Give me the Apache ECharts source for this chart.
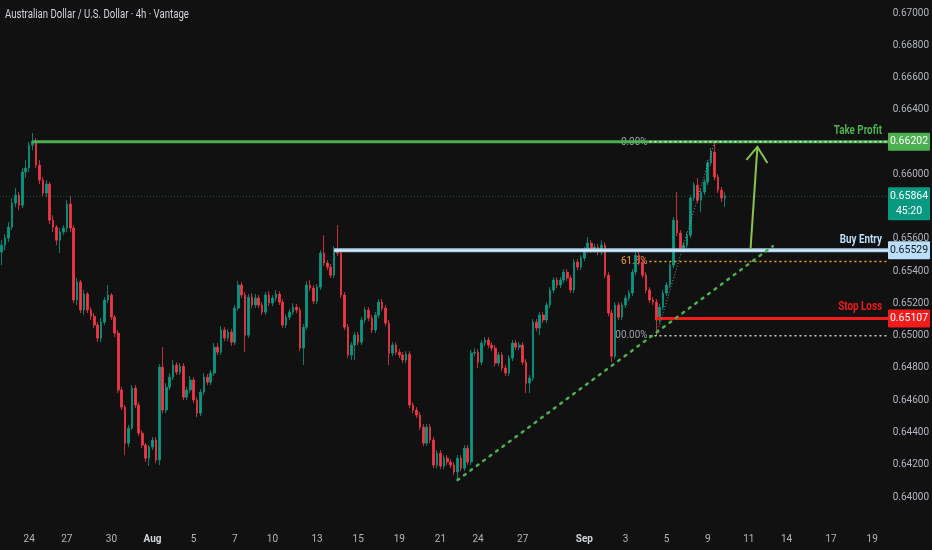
<!DOCTYPE html>
<html><head><meta charset="utf-8">
<script src="https://cdn.jsdelivr.net/npm/echarts@6/dist/echarts.min.js"></script>
<style>html,body{margin:0;padding:0;background:#111111;}#chart{width:932px;height:550px;}</style>
</head><body><div id="chart"></div>
<script>
// ---------- data ----------
const chartTitle = 'Australian Dollar / U.S. Dollar · 4h · Vantage';
const firstBarUTC = Date.UTC(2025, 6, 22, 17, 0);   // first 4h candle shown
const barHours = 4;
const totalBars = 259;                                // candles + empty space to the right

const opens = [0.65518,0.65561,0.65605,0.65673,0.65822,0.65871,0.65809,0.66014,0.66039,0.66181,
0.66206,0.66057,0.65964,0.65884,0.65940,0.65716,0.65673,0.65592,0.65642,0.65667,
0.65816,0.65667,0.65221,0.65332,0.65159,0.65258,0.65159,0.65121,0.65066,0.64985,
0.65084,0.65221,0.65252,0.65115,0.65016,0.64663,0.64557,0.64334,0.64427,0.64675,
0.64570,0.64396,0.64322,0.64241,0.64310,0.64353,0.64229,0.64805,0.64539,0.64681,
0.64743,0.64818,0.64774,0.64811,0.64619,0.64663,0.64725,0.64601,0.64520,0.64650,
0.64743,0.64712,0.64768,0.64929,0.64898,0.65035,0.64985,0.65022,0.64960,0.65171,
0.65314,0.65252,0.65004,0.65239,0.65190,0.65233,0.65190,0.65146,0.65252,0.65202,
0.65233,0.65258,0.65208,0.65066,0.65115,0.65146,0.65177,0.65159,0.64923,0.65053,
0.65314,0.65295,0.65214,0.65301,0.65512,0.65450,0.65425,0.65375,0.65530,0.65512,
0.65252,0.65053,0.64880,0.64942,0.65004,0.64960,0.65097,0.65159,0.65109,0.65035,
0.65128,0.65208,0.65171,0.65078,0.64892,0.64942,0.64898,0.64880,0.64849,0.64886,
0.64570,0.64539,0.64508,0.64433,0.64334,0.64433,0.64353,0.64198,0.64272,0.64192,
0.64241,0.64217,0.64198,0.64155,0.64241,0.64179,0.64303,0.64217,0.64892,0.64898,
0.64836,0.64954,0.64973,0.64942,0.64923,0.64830,0.64880,0.64799,0.64768,0.64861,
0.64954,0.64929,0.64942,0.64836,0.64706,0.64737,0.65084,0.65047,0.65128,0.65097,
0.65190,0.65283,0.65345,0.65314,0.65345,0.65394,0.65357,0.65283,0.65456,0.65425,
0.65481,0.65530,0.65574,0.65530,0.65549,0.65518,0.65561,0.65375,0.65140,0.64873,
0.65190,0.65115,0.65190,0.65233,0.65264,0.65394,0.65499,0.65456,0.65375,0.65283,
0.65221,0.65208,0.65097,0.65177,0.65264,0.65314,0.65437,0.65716,0.65636,0.65543,
0.65561,0.65623,0.65853,0.65933,0.65840,0.65890,0.65952,0.66070,0.66138,0.65983,
0.65902,0.65853];

const closes = [0.65561,0.65605,0.65673,0.65822,0.65871,0.65809,0.66014,0.66039,0.66181,0.66206,
0.66057,0.65964,0.65884,0.65940,0.65716,0.65673,0.65592,0.65642,0.65667,0.65816,
0.65667,0.65221,0.65332,0.65159,0.65258,0.65159,0.65121,0.65066,0.64985,0.65084,
0.65221,0.65252,0.65115,0.65016,0.64663,0.64557,0.64334,0.64427,0.64675,0.64570,
0.64396,0.64322,0.64241,0.64310,0.64353,0.64229,0.64805,0.64539,0.64681,0.64743,
0.64818,0.64774,0.64811,0.64619,0.64663,0.64725,0.64601,0.64520,0.64650,0.64743,
0.64712,0.64768,0.64929,0.64898,0.65035,0.64985,0.65022,0.64960,0.65171,0.65314,
0.65252,0.65004,0.65239,0.65190,0.65233,0.65190,0.65146,0.65252,0.65202,0.65233,
0.65258,0.65208,0.65066,0.65115,0.65146,0.65177,0.65159,0.64923,0.65053,0.65314,
0.65295,0.65214,0.65301,0.65512,0.65450,0.65425,0.65375,0.65530,0.65512,0.65252,
0.65053,0.64880,0.64942,0.65004,0.64960,0.65097,0.65159,0.65109,0.65035,0.65128,
0.65208,0.65171,0.65078,0.64892,0.64942,0.64898,0.64880,0.64849,0.64886,0.64570,
0.64539,0.64508,0.64433,0.64334,0.64433,0.64353,0.64198,0.64272,0.64192,0.64241,
0.64217,0.64198,0.64155,0.64241,0.64179,0.64303,0.64217,0.64892,0.64898,0.64836,
0.64954,0.64973,0.64942,0.64923,0.64830,0.64880,0.64799,0.64768,0.64861,0.64954,
0.64929,0.64942,0.64836,0.64706,0.64737,0.65084,0.65047,0.65128,0.65097,0.65190,
0.65283,0.65345,0.65314,0.65345,0.65394,0.65357,0.65283,0.65456,0.65425,0.65481,
0.65530,0.65574,0.65530,0.65549,0.65518,0.65561,0.65375,0.65140,0.64873,0.65190,
0.65115,0.65190,0.65233,0.65264,0.65394,0.65499,0.65456,0.65375,0.65283,0.65221,
0.65208,0.65097,0.65177,0.65264,0.65314,0.65437,0.65716,0.65636,0.65543,0.65561,
0.65623,0.65853,0.65933,0.65840,0.65890,0.65952,0.66070,0.66138,0.65983,0.65902,
0.65853,0.65864];

const lows = [0.65437,0.65530,0.65580,0.65654,0.65797,0.65778,0.65791,0.65977,0.66014,0.66150,
0.66039,0.65940,0.65865,0.65859,0.65692,0.65642,0.65561,0.65512,0.65623,0.65642,
0.65642,0.65202,0.65190,0.65140,0.65128,0.65140,0.65097,0.65047,0.64960,0.64960,
0.65066,0.65202,0.65097,0.64991,0.64644,0.64539,0.64260,0.64310,0.64415,0.64551,
0.64378,0.64303,0.64217,0.64192,0.64291,0.64210,0.64198,0.64520,0.64520,0.64663,
0.64725,0.64756,0.64756,0.64601,0.64601,0.64644,0.64582,0.64495,0.64502,0.64632,
0.64694,0.64694,0.64750,0.64880,0.64880,0.64966,0.64966,0.64935,0.64942,0.65152,
0.65233,0.64898,0.64985,0.65171,0.65171,0.65171,0.65128,0.65128,0.65183,0.65183,
0.65214,0.65190,0.65047,0.65047,0.65097,0.65128,0.65140,0.64904,0.64818,0.65035,
0.65276,0.65196,0.65196,0.65283,0.65431,0.65406,0.65357,0.65357,0.65493,0.65233,
0.65035,0.64861,0.64849,0.64849,0.64942,0.64942,0.65078,0.65090,0.65016,0.65016,
0.65109,0.65152,0.65059,0.64818,0.64873,0.64880,0.64861,0.64830,0.64830,0.64551,
0.64520,0.64489,0.64415,0.64316,0.64316,0.64334,0.64179,0.64179,0.64173,0.64173,
0.64198,0.64179,0.64136,0.64105,0.64161,0.64161,0.64198,0.64198,0.64873,0.64799,
0.64818,0.64935,0.64923,0.64904,0.64811,0.64811,0.64780,0.64750,0.64750,0.64842,
0.64911,0.64911,0.64818,0.64644,0.64644,0.64719,0.65028,0.65004,0.65078,0.65078,
0.65171,0.65264,0.65295,0.65295,0.65326,0.65338,0.65264,0.65264,0.65406,0.65406,
0.65462,0.65512,0.65512,0.65512,0.65499,0.65499,0.65357,0.65121,0.64836,0.64855,
0.65097,0.65097,0.65171,0.65214,0.65245,0.65375,0.65437,0.65357,0.65264,0.65202,
0.65190,0.65000,0.65078,0.65159,0.65245,0.65295,0.65419,0.65617,0.65524,0.65518,
0.65543,0.65605,0.65834,0.65822,0.65766,0.65871,0.65933,0.66051,0.65964,0.65884,
0.65828,0.65797];

const highs = [0.65592,0.65630,0.65704,0.65853,0.65915,0.65890,0.66039,0.66088,0.66200,0.66256,
0.66225,0.66088,0.65983,0.65964,0.65952,0.65747,0.65685,0.65667,0.65685,0.65840,
0.65865,0.65685,0.65357,0.65345,0.65283,0.65270,0.65177,0.65140,0.65084,0.65109,
0.65239,0.65314,0.65264,0.65128,0.65035,0.64681,0.64570,0.64446,0.64694,0.64694,
0.64588,0.64415,0.64334,0.64322,0.64372,0.64372,0.64824,0.64929,0.64706,0.64768,
0.64849,0.64836,0.64830,0.64830,0.64681,0.64750,0.64743,0.64619,0.64669,0.64768,
0.64762,0.64787,0.64954,0.64954,0.65059,0.65053,0.65041,0.65041,0.65190,0.65338,
0.65332,0.65270,0.65258,0.65264,0.65258,0.65252,0.65208,0.65270,0.65276,0.65252,
0.65283,0.65276,0.65227,0.65134,0.65165,0.65202,0.65196,0.65177,0.65072,0.65338,
0.65345,0.65314,0.65320,0.65530,0.65623,0.65468,0.65444,0.65555,0.65685,0.65530,
0.65270,0.65072,0.64960,0.65022,0.65022,0.65115,0.65177,0.65177,0.65128,0.65146,
0.65227,0.65227,0.65190,0.65097,0.64960,0.64960,0.64917,0.64898,0.64904,0.64904,
0.64588,0.64557,0.64526,0.64452,0.64452,0.64452,0.64372,0.64291,0.64291,0.64260,
0.64260,0.64235,0.64217,0.64260,0.64260,0.64322,0.64322,0.64911,0.64923,0.64917,
0.64973,0.64991,0.64991,0.64960,0.64942,0.64898,0.64898,0.64818,0.64880,0.64973,
0.64973,0.64960,0.64960,0.64855,0.64756,0.65103,0.65103,0.65146,0.65146,0.65208,
0.65301,0.65363,0.65363,0.65363,0.65413,0.65413,0.65375,0.65475,0.65475,0.65499,
0.65549,0.65611,0.65592,0.65568,0.65568,0.65592,0.65580,0.65394,0.65159,0.65208,
0.65208,0.65208,0.65252,0.65283,0.65413,0.65518,0.65518,0.65475,0.65394,0.65301,
0.65239,0.65227,0.65196,0.65283,0.65332,0.65456,0.65735,0.65890,0.65654,0.65580,
0.65642,0.65871,0.65952,0.65977,0.65909,0.65971,0.66088,0.66163,0.66202,0.66002,
0.65921,0.65890];

const tickDates  = ['2025-07-24','2025-07-27','2025-07-30','2025-08-01','2025-08-05','2025-08-07','2025-08-10',
                    '2025-08-13','2025-08-15','2025-08-19','2025-08-21','2025-08-24','2025-08-27','2025-09-01',
                    '2025-09-03','2025-09-05','2025-09-09','2025-09-11','2025-09-14','2025-09-17','2025-09-19'];
const tickLabels = ['24','27','30','Aug','5','7','10','13','15','19','21','24','27','Sep','3','5','9','11','14','17','19'];
const monthLabels = ['Aug','Sep'];

const priceMin = 0.638, priceMax = 0.670, priceStep = 0.002;

// trade levels
const takeProfit = 0.66202, buyEntry = 0.65529, stopLoss = 0.65107;
const lastPrice = 0.65864, countdown = '45:20';
const takeProfitFromBar = 9, buyEntryFromBar = 97, stopLossFromBar = 191;
// fibonacci retracement
const fibHigh = 0.66202, fibLow = 0.65000, fibHighBar = 208, fibLowBar = 191, fibLeftBar = 189;
const fibRatios = [0, 0.618, 1];
const fibTexts  = ['0.00%', '61.8%', '00.00%'];
// rising support (bar, price) and projection arrow
const supportStart = [133, 0.64105], supportEnd = [225, 0.65555];
const arrowStart = [218.5, 0.65540], arrowEnd = [220.5, 0.66170];

// ---------- build ----------
const categories = [];
for (let t = firstBarUTC; categories.length < totalBars; t += barHours * 3600e3) {
  const d = new Date(t), wd = d.getUTCDay(), h = d.getUTCHours();
  if (wd === 6) continue;
  if (wd === 0 && h < 21) continue;
  if (wd === 5 && h >= 21) continue;
  categories.push(d.toISOString().slice(0, 16).replace('T', ' '));
}
const labelAt = new Map();
tickDates.forEach((day, k) => {
  const idx = categories.findIndex(c => c.startsWith(day));
  if (idx >= 0) labelAt.set(idx, tickLabels[k]);
});
const candles = opens.map((o, i) => [o, closes[i], lows[i], highs[i]]);

const FONT = "Roboto, 'Noto Sans', sans-serif";
const BG = '#111111';
const UP = '#089981', DOWN = '#f23645';
const GRID = { left: 0, right: 44, top: 13, bottom: 20.7 };

const chart = echarts.init(document.getElementById('chart'), null, { renderer: 'canvas' });
chart.setOption({
  backgroundColor: BG,
  animation: false,
  grid: GRID,
  xAxis: {
    type: 'category', data: categories, boundaryGap: true,
    axisLine: { show: false }, axisTick: { show: false }, splitLine: { show: false },
    axisLabel: {
      interval: (idx) => labelAt.has(idx),
      formatter: (val, idx) => {
        const s = labelAt.get(idx) || '';
        return monthLabels.includes(s) ? '{m|' + s + '}' : s;
      },
      color: '#b2b5be', fontSize: 10, fontFamily: FONT, margin: 5,
      rich: { m: { color: '#d1d4dc', fontWeight: 'bold', fontSize: 10, fontFamily: FONT } }
    }
  },
  yAxis: {
    type: 'value', position: 'right', min: priceMin, max: priceMax, interval: priceStep, scale: true,
    axisLine: { show: false }, axisTick: { show: false }, splitLine: { show: false },
    axisLabel: {
      formatter: v => (v < 0.6399 ? '' : v.toFixed(5)),
      color: '#b2b5be', fontSize: 10, fontFamily: FONT, margin: 5
    }
  },
  series: [{
    type: 'candlestick', data: candles, barWidth: '62%',
    itemStyle: { color: UP, color0: DOWN, borderColor: UP, borderColor0: DOWN, borderWidth: 0.8 }
  }]
});

function drawOverlays() {
  const xa = chart.convertToPixel({ xAxisIndex: 0 }, 0);
  const xb = chart.convertToPixel({ xAxisIndex: 0 }, 1);
  const X = i => xa + (xb - xa) * i;
  const Y = v => chart.convertToPixel({ yAxisIndex: 0 }, v);
  const R = chart.getWidth() - GRID.right;
  const g = [];
  const hline = (x1, v, stroke, w, dash, z) => g.push({
    type: 'line', z: z, shape: { x1: x1, y1: Y(v), x2: R, y2: Y(v) },
    style: { stroke: stroke, lineWidth: w, lineDash: dash || null, lineCap: 'butt' }
  });
  const txt = (x, y, text, color, size, align, weight, z, sx) => g.push({
    type: 'text', z: z, x: x, y: y, scaleX: sx || 1,
    style: { text: text, fill: color, fontSize: size, fontFamily: FONT, fontWeight: weight || 'normal',
             align: align || 'left', verticalAlign: 'middle' }
  });

  // title
  txt(5, 15, chartTitle, '#d1d4dc', 12, 'left', 'normal', 70, 0.8);

  // current price dotted line
  hline(0, lastPrice, 'rgba(8,153,129,0.55)', 1, [1, 2], 5);

  // fibonacci levels
  const fibColors = ['#c8d6c8', '#f7a21b', '#c7c9cf'];
  fibRatios.forEach((r, k) => {
    const v = fibHigh - (fibHigh - fibLow) * r;
    if (k !== 0) hline(X(fibLeftBar), v, fibColors[k], 1.5, [2, 3], 40);
    txt(X(fibLeftBar) - 2, Y(v), fibTexts[k], k === 1 ? '#f7a21b' : '#9ea1aa', 11, 'right', 'normal', 1, 0.9);
  });
  g.push({ type: 'line', z: 40, shape: { x1: X(fibLowBar), y1: Y(fibLow), x2: X(fibHighBar), y2: Y(fibHigh) },
           style: { stroke: 'rgba(190,190,190,0.7)', lineWidth: 1, lineDash: [1, 2] } });

  // trade levels
  hline(X(takeProfitFromBar), takeProfit, '#4caf50', 3, null, 30);
  hline(X(fibLeftBar), takeProfit, '#d7ecd7', 1.5, [2, 3], 41);
  hline(X(buyEntryFromBar), buyEntry, '#a9cdee', 4, null, 30);
  hline(X(buyEntryFromBar), buyEntry, '#dcecfa', 1.2, null, 31);
  hline(X(stopLossFromBar), stopLoss, '#f21b1b', 3, null, 30);

  txt(R - 6, Y(takeProfit) - 11, 'Take Profit', '#4caf50', 12, 'right', 'bold', 50, 0.82);
  txt(R - 6, Y(buyEntry) - 10, 'Buy Entry', '#bbdefb', 12, 'right', 'bold', 50, 0.82);
  txt(R - 6, Y(stopLoss) - 11, 'Stop Loss', '#f21b1b', 12, 'right', 'bold', 50, 0.82);

  // rising support line
  g.push({ type: 'line', z: 40, shape: { x1: X(supportStart[0]), y1: Y(supportStart[1]), x2: X(supportEnd[0]), y2: Y(supportEnd[1]) },
           style: { stroke: '#4caf50', lineWidth: 2.5, lineDash: [2, 6], lineCap: 'round' } });

  // projection arrow
  const ax1 = X(arrowStart[0]), ay1 = Y(arrowStart[1]), ax2 = X(arrowEnd[0]), ay2 = Y(arrowEnd[1]);
  g.push({ type: 'line', z: 45, shape: { x1: ax1, y1: ay1, x2: ax2, y2: ay2 }, style: { stroke: '#8bc34a', lineWidth: 2 } });
  g.push({ type: 'polyline', z: 45, shape: { points: [[ax2 - 11, ay2 + 13], [ax2, ay2], [ax2 + 10, ay2 + 16]] },
           style: { stroke: '#8bc34a', lineWidth: 2, fill: null } });

  // axis price boxes
  const box = (v, fill, textColor, h, lines) => {
    const y = Y(v);
    g.push({ type: 'rect', z: 60, shape: { x: R, y: y - 9, width: 42, height: h, r: 1 }, style: { fill: fill } });
    lines.forEach((s, k) => txt(R + 21, y + k * 15, s, textColor, 10.5, 'center', 'normal', 61));
  };
  box(takeProfit, '#4caf50', '#ffffff', 18, [takeProfit.toFixed(5)]);
  box(lastPrice, UP, '#ffffff', 33, [lastPrice.toFixed(5), countdown]);
  box(buyEntry, '#bbdefb', '#131722', 18, [buyEntry.toFixed(5)]);
  box(stopLoss, '#f21b1b', '#ffffff', 18, [stopLoss.toFixed(5)]);

  chart.setOption({ graphic: g });
}
drawOverlays();
</script>
</body></html>
